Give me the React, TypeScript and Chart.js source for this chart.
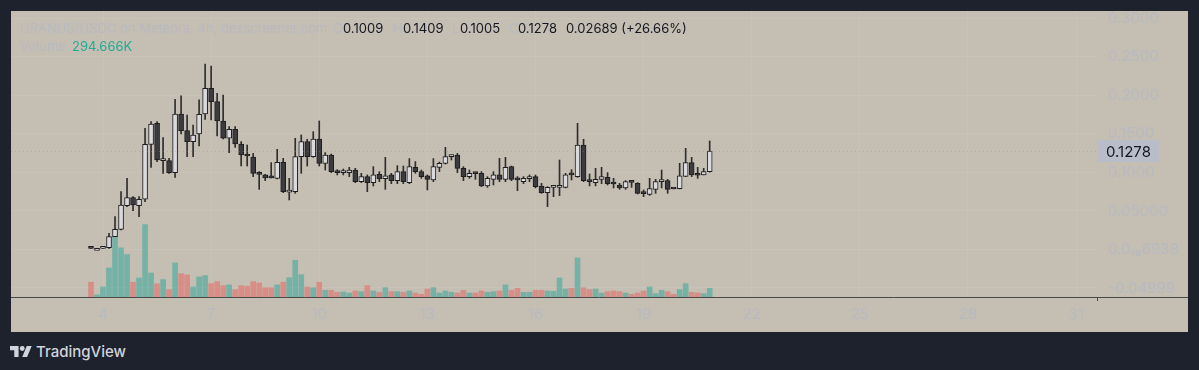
import React, { useEffect, useRef } from "react";
import { Chart, registerables } from "chart.js";

Chart.register(...registerables);

// ---- data (4h candles, URANUS/USDC) ----
const FIRST_CANDLE_DAY = 3 + 16 / 24; // day 3, 16:00
const CANDLE_HOURS = 4;

const OPENS = [
  0.0016, 0.0015, 0.0015, 0.0024, 0.0167, 0.0262, 0.0569, 0.0673, 0.0569, 0.0652,
  0.1366, 0.1639, 0.1154, 0.1154, 0.0998, 0.1760, 0.1543, 0.1400, 0.1500, 0.1760,
  0.2093, 0.1920, 0.1669, 0.1444, 0.1561, 0.1370, 0.1227, 0.1200, 0.0989, 0.0968,
  0.0935, 0.0924, 0.1131, 0.0745, 0.0751, 0.1206, 0.1400, 0.1206, 0.1435, 0.1119,
  0.1227, 0.1011, 0.0998, 0.0998, 0.1032, 0.0881, 0.0946, 0.0868, 0.0976, 0.0920,
  0.0968, 0.0894, 0.1011, 0.0868, 0.1067, 0.1011, 0.0955, 0.0903, 0.1067, 0.1119,
  0.1206, 0.1227, 0.1054, 0.0946, 0.0989, 0.0989, 0.0825, 0.0911, 0.0968, 0.0911,
  0.1076, 0.0920, 0.0881, 0.0920, 0.0946, 0.0825, 0.0738, 0.0807, 0.0807, 0.0807,
  0.0976, 0.0946, 0.1357, 0.0894, 0.0868, 0.0911, 0.0937, 0.0855, 0.0838, 0.0799,
  0.0876, 0.0859, 0.0729, 0.0716, 0.0781, 0.0881, 0.0894, 0.0790, 0.0790, 0.0950,
  0.1128, 0.0968, 0.0968, 0.1009,
];
const HIGHS = [
  0.0016, 0.0015, 0.0016, 0.0210, 0.0426, 0.0751, 0.0924, 0.0686, 0.0686, 0.1574,
  0.1660, 0.1660, 0.1452, 0.1184, 0.1950, 0.1994, 0.1747, 0.1617, 0.1942, 0.2409,
  0.2383, 0.2028, 0.2006, 0.1595, 0.1595, 0.1400, 0.1357, 0.1248, 0.1011, 0.0976,
  0.1128, 0.1301, 0.1184, 0.0924, 0.1444, 0.1487, 0.1431, 0.1530, 0.1669, 0.1258,
  0.1240, 0.1037, 0.1045, 0.1067, 0.1054, 0.0989, 0.0968, 0.1076, 0.1011, 0.1197,
  0.0989, 0.1089, 0.1084, 0.1180, 0.1141, 0.1032, 0.0968, 0.1180, 0.1136, 0.1327,
  0.1227, 0.1248, 0.1076, 0.1032, 0.0993, 0.1011, 0.0946, 0.1011, 0.1184, 0.1197,
  0.1084, 0.0946, 0.0946, 0.0968, 0.0968, 0.0859, 0.0816, 0.0816, 0.1162, 0.0989,
  0.1037, 0.1639, 0.1431, 0.0981, 0.1054, 0.1067, 0.0998, 0.0924, 0.0859, 0.0894,
  0.0876, 0.0868, 0.0773, 0.0924, 0.0911, 0.1032, 0.0911, 0.0790, 0.1119, 0.1314,
  0.1197, 0.1067, 0.1054, 0.1409,
];
const LOWS = [
  0.0015, 0.0015, 0.0015, 0.0015, 0.0167, 0.0253, 0.0556, 0.0504, 0.0426, 0.0621,
  0.1067, 0.1141, 0.0989, 0.0989, 0.0937, 0.1500, 0.1206, 0.1206, 0.1344, 0.1690,
  0.1682, 0.1474, 0.1435, 0.1258, 0.1327, 0.1084, 0.1084, 0.0946, 0.0781, 0.0894,
  0.0928, 0.0916, 0.0738, 0.0643, 0.0729, 0.0989, 0.1084, 0.1197, 0.1084, 0.1032,
  0.0998, 0.0968, 0.0968, 0.0946, 0.0868, 0.0868, 0.0751, 0.0825, 0.0881, 0.0781,
  0.0855, 0.0855, 0.0855, 0.0855, 0.0989, 0.0924, 0.0773, 0.0881, 0.1011, 0.1110,
  0.1162, 0.0998, 0.0894, 0.0924, 0.0911, 0.0816, 0.0807, 0.0838, 0.0881, 0.0881,
  0.0894, 0.0764, 0.0855, 0.0881, 0.0799, 0.0729, 0.0556, 0.0686, 0.0699, 0.0799,
  0.0903, 0.0937, 0.0881, 0.0825, 0.0825, 0.0855, 0.0838, 0.0799, 0.0781, 0.0781,
  0.0807, 0.0721, 0.0686, 0.0703, 0.0729, 0.0799, 0.0729, 0.0786, 0.0786, 0.0946,
  0.0946, 0.0924, 0.0968, 0.1005,
];
const CLOSES = [
  0.0015, 0.0015, 0.0016, 0.0167, 0.0262, 0.0578, 0.0673, 0.0578, 0.0652, 0.1366,
  0.1630, 0.1162, 0.1162, 0.0998, 0.1760, 0.1543, 0.1400, 0.1487, 0.1755, 0.2093,
  0.1920, 0.1669, 0.1444, 0.1561, 0.1370, 0.1227, 0.1214, 0.0989, 0.0976, 0.0930,
  0.0930, 0.1131, 0.0751, 0.0751, 0.1206, 0.1400, 0.1206, 0.1435, 0.1119, 0.1227,
  0.1011, 0.0998, 0.1011, 0.1032, 0.0881, 0.0946, 0.0868, 0.0968, 0.0920, 0.0955,
  0.0894, 0.1011, 0.0881, 0.1076, 0.1011, 0.0946, 0.0911, 0.1076, 0.1119, 0.1206,
  0.1227, 0.1054, 0.0946, 0.0989, 0.0985, 0.0825, 0.0924, 0.0968, 0.0911, 0.1067,
  0.0911, 0.0903, 0.0924, 0.0924, 0.0816, 0.0738, 0.0807, 0.0816, 0.0816, 0.0968,
  0.0968, 0.1357, 0.0894, 0.0881, 0.0911, 0.0946, 0.0855, 0.0850, 0.0799, 0.0881,
  0.0872, 0.0729, 0.0725, 0.0790, 0.0881, 0.0885, 0.0781, 0.0786, 0.0955, 0.1128,
  0.0968, 0.0964, 0.1011, 0.1278,
];
const VOLUMES = [
  500000, 70000, 340000, 985000, 2060000, 1665000, 1440000, 500000, 645000, 2455000,
  815000, 450000, 590000, 250000, 1155000, 790000, 750000, 340000, 680000, 725000,
  450000, 520000, 385000, 410000, 250000, 385000, 365000, 520000, 475000, 315000,
  315000, 410000, 500000, 655000, 1245000, 760000, 340000, 315000, 500000, 228000,
  228000, 160000, 170000, 136000, 204000, 180000, 385000, 204000, 160000, 315000,
  180000, 180000, 160000, 204000, 136000, 92000, 272000, 315000, 136000, 204000,
  160000, 136000, 228000, 136000, 136000, 204000, 160000, 180000, 204000, 410000,
  228000, 295000, 160000, 160000, 228000, 228000, 204000, 194000, 645000, 272000,
  295000, 1325000, 315000, 250000, 272000, 136000, 180000, 204000, 180000, 136000,
  92000, 136000, 204000, 340000, 112000, 228000, 180000, 92000, 250000, 450000,
  160000, 136000, 112000, 294666,
];

const X_TICKS = [4, 7, 10, 13, 16, 19, 22, 25, 28, 31];
const PRICE_TICKS = [-0.05, 0, 0.05, 0.1, 0.15, 0.2, 0.25, 0.3];
const PRICE_TICK_LABELS = ["-0.04999", "0.0₁₆6938", "0.05000", "0.1000", "0.1500", "0.2000", "0.2500", "0.3000"];

const HEADER_TITLE = "URANUS/USDC on Meteora, 4h, dexscreener.com";
const LAST_OPEN = "0.1009";
const LAST_HIGH = "0.1409";
const LAST_LOW = "0.1005";
const LAST_CLOSE = "0.1278";
const LAST_CHANGE = "0.02689 (+26.66%)";
const LAST_VOLUME = "294.666K";

// ---- styles ----
const PAGE_BG = "#1e222d";
const PANEL_BG = "#c5beb3";
const FAINT = "rgb(183,186,193)";
const UP_BODY = "#dadade";
const DOWN_BODY = "#3c3c40";
const CANDLE_BORDER = "#1d1d1f";
const WICK = "#2e2e30";
const VOL_UP = "rgba(38,166,154,0.5)";
const VOL_DOWN = "rgba(239,83,80,0.45)";
const FONT = "Inter, 'Noto Sans', sans-serif";

const overlayPlugin = {
  id: "tvOverlay",
  afterDraw(chart: any) {
    const { ctx, chartArea, scales } = chart;
    const close = Number(LAST_CLOSE);
    const y = scales.y.getPixelForValue(close);
    ctx.save();
    // dotted last-price line
    ctx.strokeStyle = "rgba(140,146,165,0.35)";
    ctx.lineWidth = 1;
    ctx.setLineDash([1, 3]);
    ctx.beginPath();
    ctx.moveTo(chartArea.left, Math.round(y) + 0.5);
    ctx.lineTo(chartArea.right, Math.round(y) + 0.5);
    ctx.stroke();
    ctx.setLineDash([]);
    // bottom axis line across the whole pane
    ctx.strokeStyle = "#4a4947";
    ctx.beginPath();
    ctx.moveTo(0, Math.round(chartArea.bottom) + 0.5);
    ctx.lineTo(chart.width, Math.round(chartArea.bottom) + 0.5);
    ctx.stroke();
    ctx.beginPath();
    ctx.moveTo(Math.round(chartArea.right) + 0.5, chartArea.bottom);
    ctx.lineTo(Math.round(chartArea.right) + 0.5, chartArea.bottom + 4);
    ctx.stroke();
    // last price label
    ctx.font = `15px ${FONT}`;
    const w = ctx.measureText(LAST_CLOSE).width + 17;
    ctx.fillStyle = "#b9bdc9";
    ctx.fillRect(chartArea.right, Math.round(y) - 11, w, 22);
    ctx.fillStyle = "#131722";
    ctx.textBaseline = "middle";
    ctx.textAlign = "left";
    ctx.fillText(LAST_CLOSE, chartArea.right + 9, Math.round(y) + 1);
    ctx.restore();
  },
};

export default function App() {
  const canvasRef = useRef<HTMLCanvasElement | null>(null);

  useEffect(() => {
    if (!canvasRef.current) return;
    const times = OPENS.map((_, i) => FIRST_CANDLE_DAY + (i * CANDLE_HOURS) / 24);
    const isUp = (i: number) => CLOSES[i] >= OPENS[i];

    const chart = new Chart(canvasRef.current, {
      type: "bar",
      data: {
        datasets: [
          {
            label: "Volume",
            yAxisID: "yVol",
            data: times.map((t, i) => ({ x: t, y: VOLUMES[i] })) as any,
            backgroundColor: times.map((_, i) => (isUp(i) ? VOL_UP : VOL_DOWN)),
            barThickness: 5,
            grouped: false,
            order: 3,
          },
          {
            label: "Wick",
            yAxisID: "y",
            data: times.map((t, i) => ({ x: t, y: [LOWS[i], HIGHS[i]] })) as any,
            backgroundColor: WICK,
            barThickness: 1,
            grouped: false,
            order: 2,
          },
          {
            label: "Body",
            yAxisID: "y",
            data: times.map((t, i) => ({
              x: t,
              y: [Math.min(OPENS[i], CLOSES[i]), Math.max(OPENS[i], CLOSES[i])],
            })) as any,
            backgroundColor: times.map((_, i) => (isUp(i) ? UP_BODY : DOWN_BODY)),
            borderColor: CANDLE_BORDER,
            borderWidth: 1,
            borderSkipped: false,
            barThickness: 5,
            minBarLength: 2,
            grouped: false,
            order: 1,
          },
        ],
      },
      options: {
        animation: false,
        responsive: false,
        maintainAspectRatio: false,
        layout: { padding: 0 },
        plugins: { legend: { display: false }, tooltip: { enabled: false } },
        scales: {
          x: {
            type: "linear",
            position: "bottom",
            min: 1.447,
            max: 31.58,
            offset: false,
            afterBuildTicks: (axis: any) => {
              axis.ticks = X_TICKS.map((v) => ({ value: v }));
            },
            afterFit: (axis: any) => {
              axis.height = 35;
              axis.paddingLeft = 0;
              axis.paddingRight = 0;
            },
            ticks: {
              color: FAINT,
              font: { family: FONT, size: 15 },
              padding: 8,
              maxRotation: 0,
              autoSkip: false,
              callback: (v: any) => String(v),
            },
            grid: { color: "rgba(255,255,255,0.07)", drawTicks: false, offset: false },
            border: { display: false },
          },
          y: {
            type: "linear",
            position: "right",
            min: -0.0617,
            max: 0.3097,
            afterBuildTicks: (axis: any) => {
              axis.ticks = PRICE_TICKS.map((v) => ({ value: v }));
            },
            afterFit: (axis: any) => {
              axis.width = 91;
              axis.paddingTop = 0;
              axis.paddingBottom = 0;
            },
            ticks: {
              color: FAINT,
              font: { family: FONT, size: 15 },
              padding: 11,
              callback: (v: any) => {
                const idx = PRICE_TICKS.findIndex((p) => Math.abs(p - Number(v)) < 1e-9);
                return idx >= 0 ? PRICE_TICK_LABELS[idx] : "";
              },
            },
            grid: { color: "rgba(255,255,255,0.07)", drawTicks: false },
            border: { display: false },
          },
          yVol: {
            type: "linear",
            display: false,
            min: 0,
            max: 9700000,
          },
        },
      } as any,
      plugins: [overlayPlugin],
    });
    return () => chart.destroy();
  }, []);

  const text: React.CSSProperties = {
    position: "absolute",
    fontFamily: FONT,
    fontSize: 13,
    lineHeight: "16px",
    whiteSpace: "nowrap",
  };

  return (
    <div
      style={{
        position: "absolute",
        left: 0,
        top: 0,
        width: 1199,
        height: 370,
        background: PAGE_BG,
        overflow: "hidden",
      }}
    >
      <div
        style={{
          position: "absolute",
          left: 11,
          top: 11,
          width: 1177,
          height: 321,
          background: PANEL_BG,
        }}
      >
        <canvas
          ref={canvasRef}
          width={1177}
          height={321}
          style={{ display: "block", width: 1177, height: 321 }}
        />
      </div>
      <span style={{ ...text, left: 20, top: 20, color: FAINT }}>{HEADER_TITLE}</span>
      <span style={{ ...text, left: 333, top: 20, color: FAINT }}>O</span>
      <span style={{ ...text, left: 343, top: 20, color: "#131722" }}>{LAST_OPEN}</span>
      <span style={{ ...text, left: 393, top: 20, color: FAINT }}>H</span>
      <span style={{ ...text, left: 403, top: 20, color: "#131722" }}>{LAST_HIGH}</span>
      <span style={{ ...text, left: 452, top: 20, color: FAINT }}>L</span>
      <span style={{ ...text, left: 460, top: 20, color: "#131722" }}>{LAST_LOW}</span>
      <span style={{ ...text, left: 509, top: 20, color: FAINT }}>C</span>
      <span style={{ ...text, left: 518, top: 20, color: "#131722" }}>{LAST_CLOSE}</span>
      <span style={{ ...text, left: 566, top: 20, color: "#131722" }}>{LAST_CHANGE}</span>
      <span style={{ ...text, left: 20, top: 38, color: FAINT }}>Volume</span>
      <span style={{ ...text, left: 72, top: 38, color: "#22ab94" }}>{LAST_VOLUME}</span>

      <svg
        style={{ position: "absolute", left: 10, top: 346 }}
        width={22}
        height={11}
        viewBox="0 4 36 18"
      >
        <path d="M14 22H7V11H0V4h14v18zM28 22h-8l7.5-18h8L28 22z" fill="#d1d4dc" />
        <circle cx="20" cy="8" r="4" fill="#d1d4dc" />
      </svg>
      <span
        style={{
          position: "absolute",
          left: 36,
          top: 343,
          fontFamily: FONT,
          fontSize: 15,
          lineHeight: "18px",
          fontWeight: 500,
          color: "#d1d4dc",
          whiteSpace: "nowrap",
        }}
      >
        TradingView
      </span>
    </div>
  );
}
